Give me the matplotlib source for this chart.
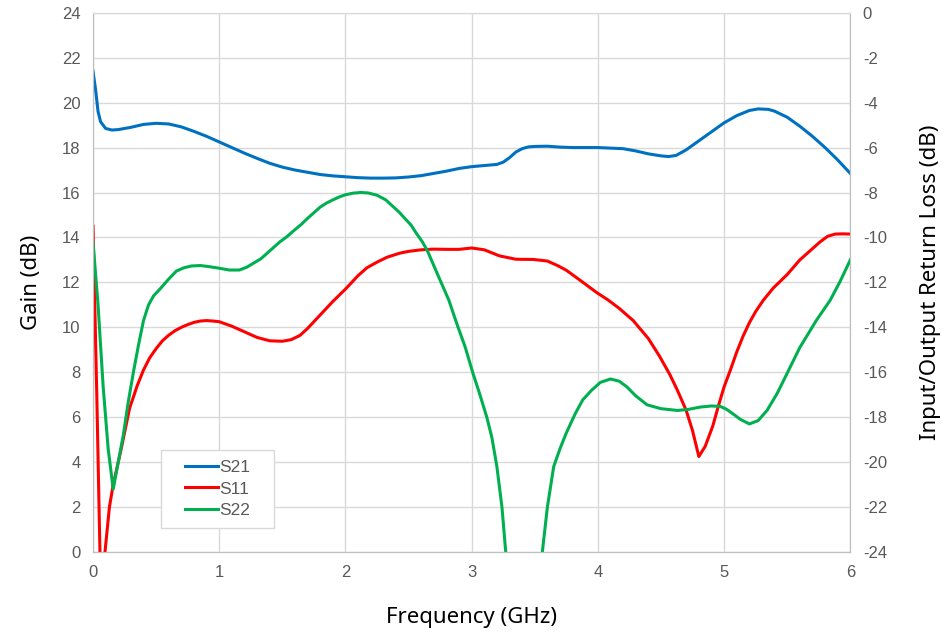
import matplotlib.pyplot as plt
from matplotlib.patches import Rectangle

plt.rcParams['axes.unicode_minus'] = False

# --- data ---
s21_freq = [0.0, 0.02, 0.04, 0.06, 0.1, 0.15, 0.2, 0.3, 0.4, 0.5, 0.6, 0.7, 0.8, 0.9, 1.0,
            1.1, 1.2, 1.3, 1.4, 1.5, 1.6, 1.7, 1.8, 1.9, 2.0, 2.1, 2.2, 2.3, 2.4, 2.5, 2.6,
            2.7, 2.8, 2.9, 3.0, 3.1, 3.2, 3.25, 3.3, 3.35, 3.4, 3.45, 3.5, 3.6, 3.7, 3.8,
            4.0, 4.2, 4.3, 4.4, 4.5, 4.56, 4.62, 4.7, 4.8, 4.9, 5.0, 5.1, 5.2, 5.27, 5.35,
            5.4, 5.5, 5.6, 5.7, 5.8, 5.9, 6.0]
s21_gain = [21.4, 20.6, 19.6, 19.15, 18.85, 18.78, 18.8, 18.9, 19.03, 19.08, 19.05, 18.92,
            18.72, 18.5, 18.25, 18.0, 17.75, 17.52, 17.3, 17.13, 17.0, 16.9, 16.8, 16.74,
            16.7, 16.66, 16.64, 16.64, 16.65, 16.69, 16.75, 16.85, 16.95, 17.07, 17.15,
            17.2, 17.25, 17.35, 17.55, 17.8, 17.95, 18.03, 18.05, 18.06, 18.02, 18.0, 18.0,
            17.95, 17.85, 17.72, 17.63, 17.6, 17.65, 17.9, 18.3, 18.7, 19.1, 19.42, 19.65,
            19.72, 19.7, 19.62, 19.35, 18.95, 18.5, 18.0, 17.45, 16.85]

s11_freq = [0.0, 0.03, 0.055, 0.075, 0.095, 0.13, 0.16, 0.22, 0.29, 0.35, 0.4, 0.45, 0.5,
            0.55, 0.6, 0.65, 0.7, 0.75, 0.8, 0.85, 0.9, 0.95, 1.0, 1.1, 1.2, 1.3, 1.4, 1.5,
            1.57, 1.64, 1.7, 1.8, 1.9, 2.0, 2.1, 2.17, 2.25, 2.33, 2.43, 2.5, 2.6, 2.7, 2.8,
            2.9, 3.0, 3.1, 3.22, 3.35, 3.49, 3.6, 3.68, 3.75, 3.87, 3.99, 4.08, 4.17, 4.28,
            4.4, 4.49, 4.57, 4.63, 4.7, 4.75, 4.8, 4.85, 4.91, 4.96, 5.0, 5.05, 5.1, 5.15,
            5.2, 5.25, 5.31, 5.39, 5.5, 5.6, 5.7, 5.76, 5.82, 5.88, 5.94, 6.0]
s11_rl = [-9.5, -17.0, -24.0, -26.0, -24.0, -22.0, -21.0, -19.5, -17.6, -16.6, -15.9,
          -15.35, -14.95, -14.6, -14.35, -14.15, -14.0, -13.88, -13.78, -13.72, -13.7,
          -13.72, -13.75, -13.95, -14.2, -14.45, -14.6, -14.62, -14.55, -14.36, -14.05,
          -13.45, -12.85, -12.3, -11.7, -11.35, -11.1, -10.88, -10.7, -10.62, -10.55,
          -10.52, -10.53, -10.53, -10.47, -10.55, -10.82, -10.97, -10.98, -11.05, -11.25,
          -11.46, -11.95, -12.45, -12.78, -13.16, -13.7, -14.5, -15.3, -16.1, -16.8,
          -17.7, -18.6, -19.75, -19.3, -18.4, -17.4, -16.65, -15.9, -15.1, -14.4, -13.8,
          -13.3, -12.8, -12.25, -11.65, -11.0, -10.5, -10.2, -9.95, -9.85, -9.84, -9.85]

s22_freq = [0.0, 0.04, 0.08, 0.12, 0.16, 0.2, 0.24, 0.28, 0.32, 0.36, 0.4, 0.44, 0.48,
            0.53, 0.6, 0.66, 0.72, 0.78, 0.85, 0.92, 1.0, 1.08, 1.16, 1.22, 1.27, 1.33,
            1.38, 1.43, 1.48, 1.54, 1.59, 1.65, 1.7, 1.75, 1.8, 1.85, 1.9, 1.95, 2.0,
            2.06, 2.12, 2.18, 2.25, 2.32, 2.38, 2.43, 2.47, 2.52, 2.56, 2.61, 2.65, 2.7,
            2.75, 2.82, 2.88, 2.95, 3.01, 3.06, 3.12, 3.16, 3.2, 3.24, 3.27, 3.35, 3.42,
            3.49, 3.56, 3.6, 3.65, 3.7, 3.75, 3.82, 3.88, 3.95, 4.02, 4.1, 4.17, 4.23,
            4.3, 4.39, 4.5, 4.63, 4.72, 4.81, 4.9, 4.97, 5.02, 5.07, 5.13, 5.2, 5.27,
            5.34, 5.42, 5.5, 5.6, 5.73, 5.84, 5.92, 6.0]
s22_rl = [-10.2, -13.0, -16.6, -19.4, -21.2, -20.0, -18.8, -17.3, -16.0, -14.8, -13.7,
          -13.0, -12.6, -12.3, -11.85, -11.5, -11.35, -11.27, -11.25, -11.3, -11.37,
          -11.45, -11.45, -11.32, -11.15, -10.95, -10.7, -10.45, -10.2, -9.95, -9.7,
          -9.42, -9.15, -8.9, -8.65, -8.47, -8.33, -8.2, -8.1, -8.03, -8.0, -8.02,
          -8.12, -8.33, -8.64, -8.9, -9.15, -9.45, -9.8, -10.2, -10.6, -11.25, -11.9,
          -12.8, -13.8, -14.9, -16.04, -16.9, -18.0, -18.9, -20.2, -22.0, -24.0, -27.0,
          -28.0, -27.0, -24.0, -22.0, -20.2, -19.4, -18.7, -17.85, -17.23, -16.8, -16.45,
          -16.3, -16.4, -16.65, -17.05, -17.45, -17.62, -17.7, -17.65, -17.55, -17.5,
          -17.52, -17.65, -17.85, -18.1, -18.3, -18.15, -17.7, -16.95, -16.04, -14.9,
          -13.7, -12.8, -11.95, -11.0]

fig, ax = plt.subplots(figsize=(9.49, 6.37), dpi=100)
fig.subplots_adjust(left=0.098, right=0.896, top=0.980, bottom=0.1334)
ax2 = ax.twinx()

grid_c = '#D9D9D9'
tick_c = '#595959'

l1, = ax.plot(s21_freq, s21_gain, color='#0070C0', lw=2.2, label='S21', solid_joinstyle='round')
l2, = ax2.plot(s11_freq, s11_rl, color='#FF0000', lw=2.2, label='S11', solid_joinstyle='round')
l3, = ax2.plot(s22_freq, s22_rl, color='#00B050', lw=2.2, label='S22', solid_joinstyle='round')

ax.set_xlim(0, 6)
ax.set_ylim(0, 24)
ax2.set_ylim(-24, 0)
ax.set_xticks(range(0, 7))
ax.set_yticks(range(0, 25, 2))
ax2.set_yticks(range(-24, 1, 2))
ax.grid(True, color=grid_c, lw=1.0)
ax.set_axisbelow(True)

for a in (ax, ax2):
    for s in a.spines.values():
        s.set_color(grid_c)
    a.spines['left'].set_color('#BFBFBF')
    a.spines['bottom'].set_color('#BFBFBF')
    a.spines['right'].set_color('#BFBFBF')
    a.tick_params(length=0, labelsize=12, colors=tick_c, pad=9)
    for t in a.get_xticklabels() + a.get_yticklabels():
        t.set_fontfamily('Liberation Sans')

ax.set_xlabel('Frequency (GHz)', fontsize=16, fontfamily='Noto Sans', labelpad=20)
ax.set_ylabel('Gain (dB)', fontsize=16, fontfamily='Noto Sans', labelpad=14)
ax2.set_ylabel('Input/Output Return Loss (dB)', fontsize=16, fontfamily='Noto Sans',
               labelpad=24, rotation=90)

# legend frame drawn separately (wider side padding than matplotlib's borderpad)
frame = Rectangle((0.0898, 0.0445), 0.149, 0.145, transform=ax2.transAxes,
                  facecolor='white', edgecolor=grid_c, lw=1.0, zorder=5)
ax2.add_patch(frame)
leg = ax2.legend(handles=[l1, l2, l3], loc='center', bbox_to_anchor=(0.1643, 0.117),
                 frameon=False, prop={'family': 'Liberation Sans', 'size': 12.5},
                 handlelength=1.9, handletextpad=0.1, borderpad=0, borderaxespad=0,
                 labelspacing=0.35)
leg.set_zorder(6)
for t in leg.get_texts():
    t.set_color(tick_c)

fig.savefig('out.png', dpi=100)
